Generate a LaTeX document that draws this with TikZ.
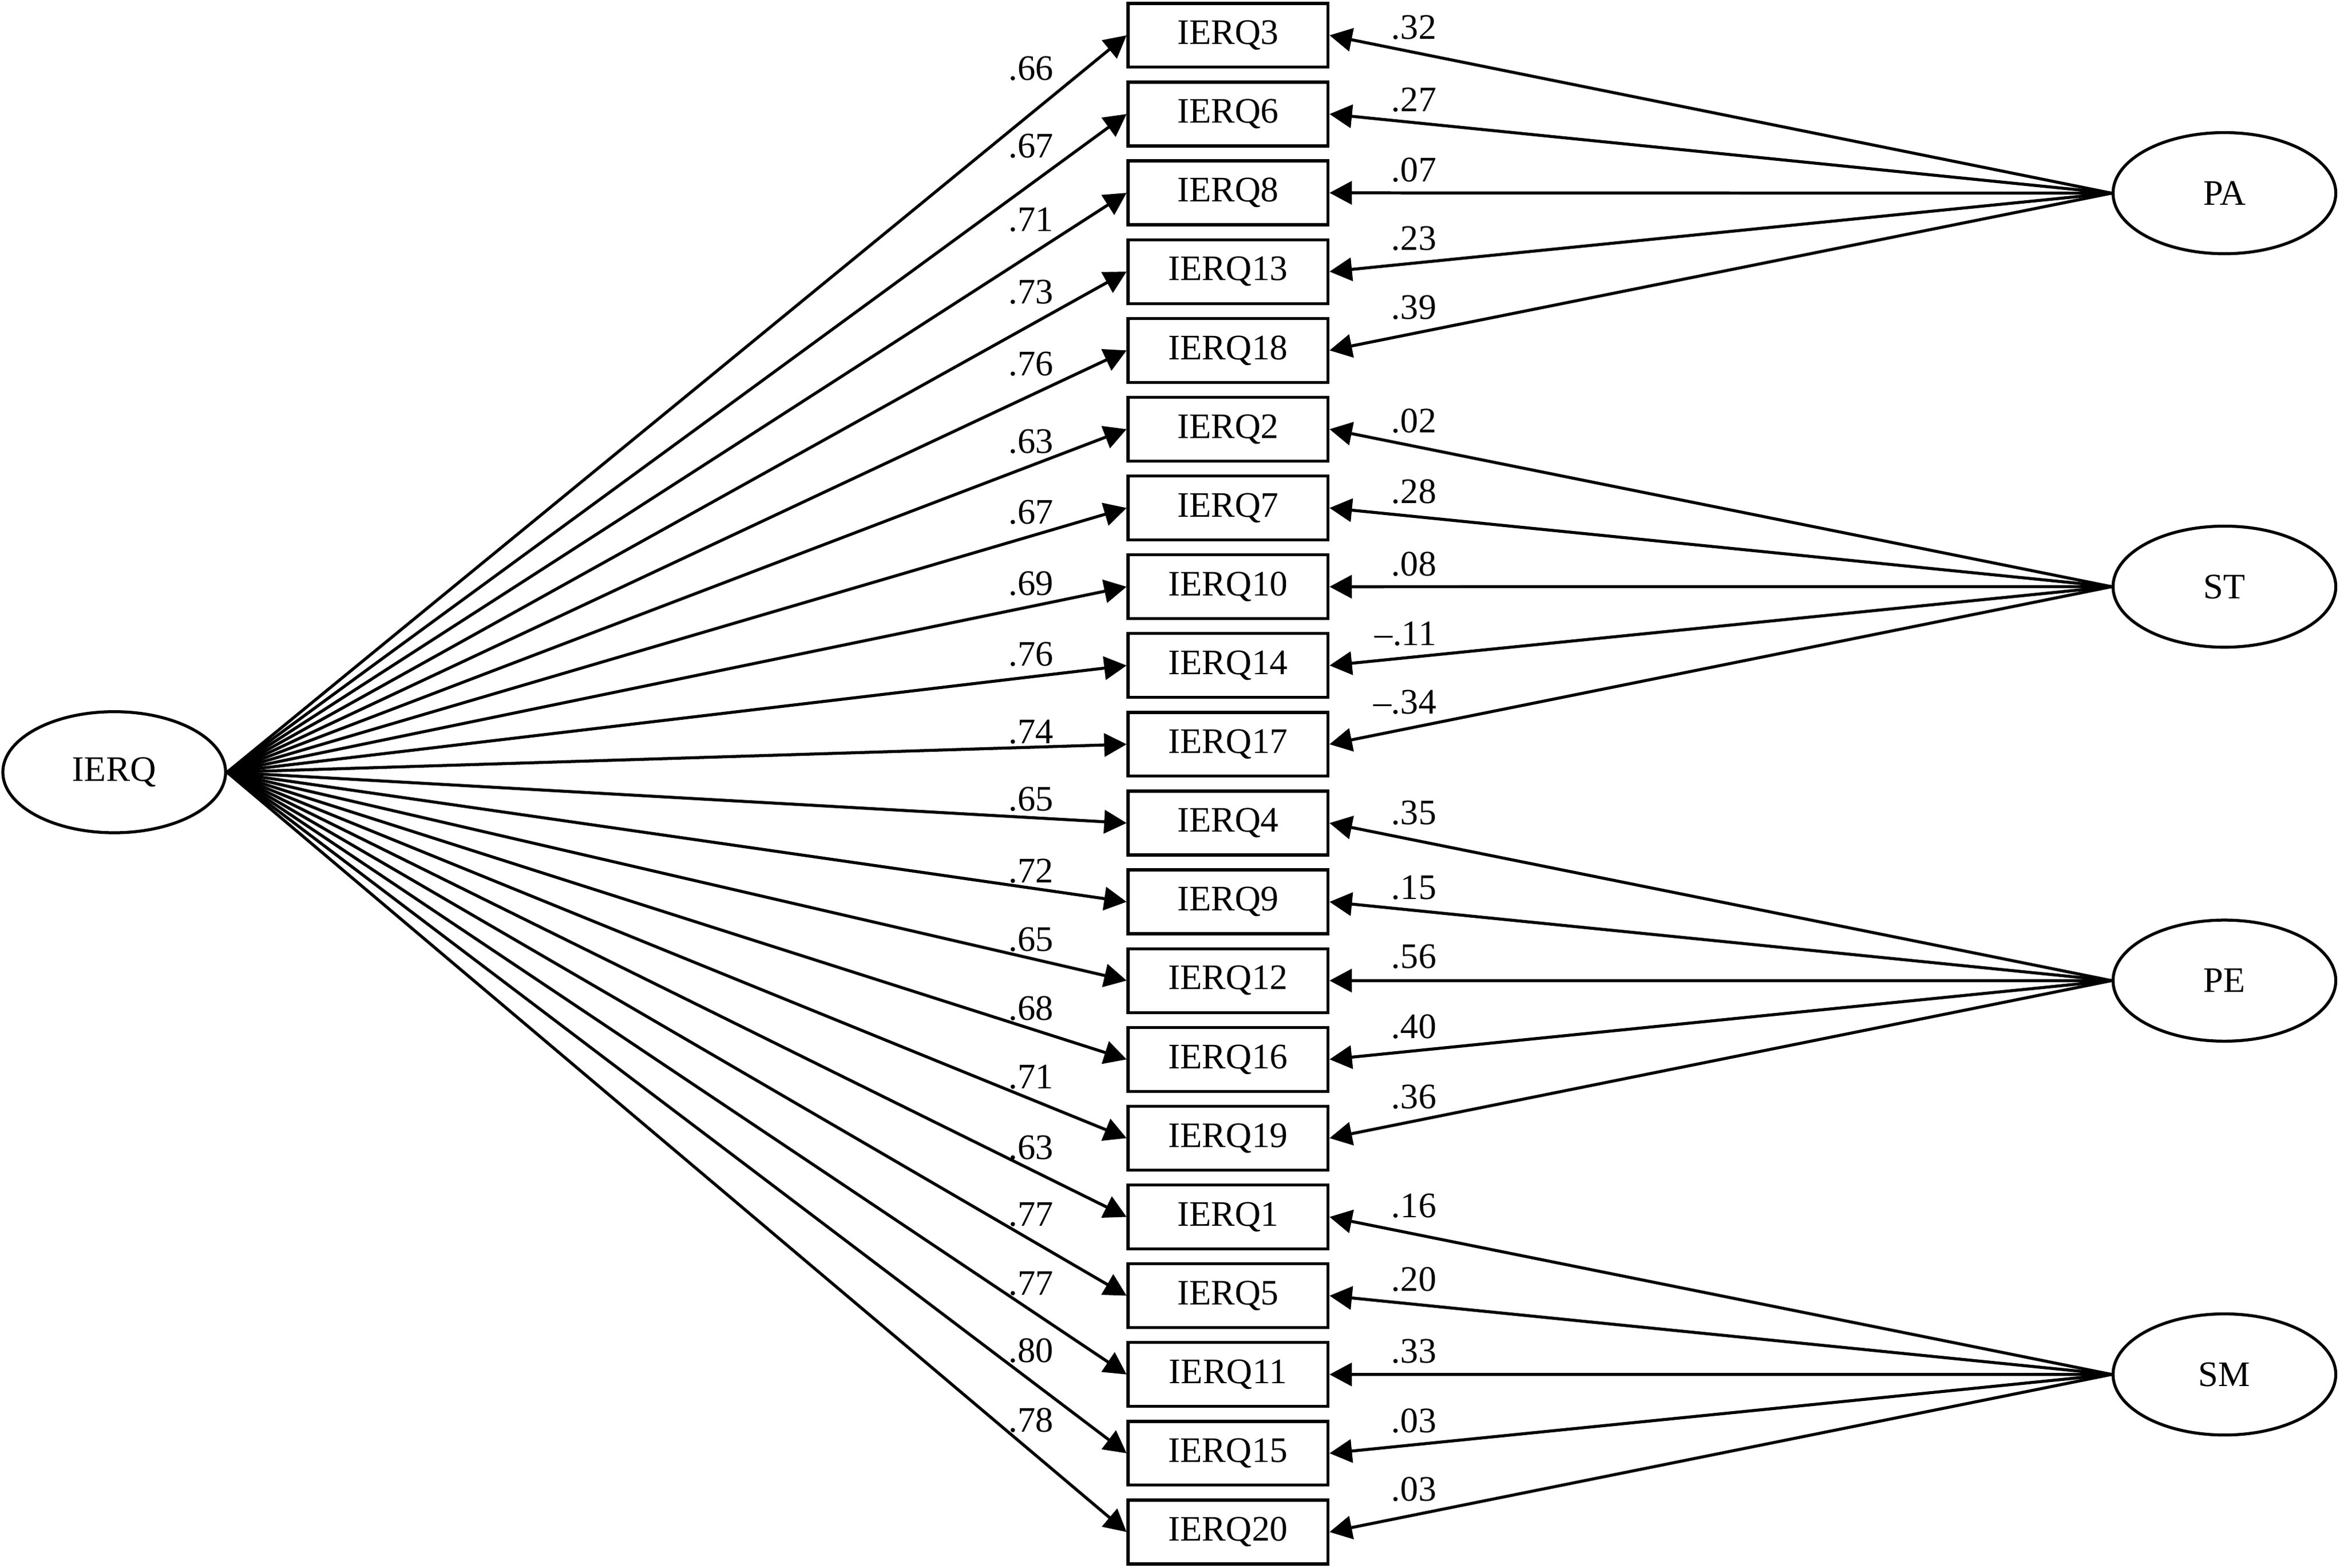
\documentclass[tikz,border=0pt]{standalone}
\usepackage{fontspec}
\setmainfont{Liberation Serif}
\usetikzlibrary{shapes.geometric,arrows.meta}
\begin{document}
\begin{tikzpicture}[x=1pt,y=-1pt,
  every node/.style={font=\fontsize{24}{28}\selectfont},
  item/.style={draw,line width=2pt,minimum width=133.7pt,minimum height=42.7pt,inner sep=0pt},
  latent/.style={draw,ellipse,line width=2pt,minimum width=149pt,minimum height=81pt,inner sep=0pt},
  load/.style={line width=2pt,-{Triangle[length=15pt,width=15.5pt]}},
  coef/.style={inner sep=0pt}]
\useasboundingbox (0,0) rectangle (1568,1048.4);
% latent variables
\node[latent] (IERQ) at (76.4,516.5) {IERQ};
\node[latent] (PA) at (1488,129.2) {PA};
\node[latent] (ST) at (1488,392.4) {ST};
\node[latent] (PE) at (1488,655.9) {PE};
\node[latent] (SM) at (1488,919.3) {SM};
% items
\foreach \n [count=\i from 0] in {3,6,8,13,18,2,7,10,14,17,4,9,12,16,19,1,5,11,15,20}
  \node[item] (b\n) at (821.5,{23.6+\i*52.69}) {IERQ\n};
% paths
\foreach \n/\f in {3/PA,6/PA,8/PA,13/PA,18/PA,2/ST,7/ST,10/ST,14/ST,17/ST,4/PE,9/PE,12/PE,16/PE,19/PE,1/SM,5/SM,11/SM,15/SM,20/SM}{
  \draw[load] (IERQ.east) -- (b\n.west);
  \draw[load] (\f.west) -- (b\n.east);
}
% general factor loadings
\foreach \n/\v/\y in {3/.66/45.7,6/.67/97.6,8/.71/146.8,13/.73/195.5,18/.76/243.5,2/.63/295.5,7/.67/342.5,10/.69/390.5,14/.76/437.5,17/.74/489.5,4/.65/534.5,9/.72/582.5,12/.65/628.5,16/.68/674.5,19/.71/720.5,1/.63/767.5,5/.77/812.5,11/.77/858.5,15/.80/903.5,20/.78/950}
  \node[coef,anchor=east] (la\n) at (705,\y) {\v};
% specific factor loadings
\foreach \n/\v/\y in {3/.32/18.4,6/.27/66.8,8/.07/113.8,13/.23/159.7,18/.39/205.7,2/.02/281.7,7/.28/328.7,10/.08/377.5,14/{–.11}/423.8,17/{–.34}/469.6,4/.35/543.7,9/.15/593.7,12/.56/639.7,16/.40/686.7,19/.36/733.7,1/.16/806.7,5/.20/855.7,11/.33/903.7,15/.03/950.3,20/.03/996.1}
  \node[coef,anchor=east] (ra\n) at (961,\y) {\v};
\end{tikzpicture}
\end{document}
